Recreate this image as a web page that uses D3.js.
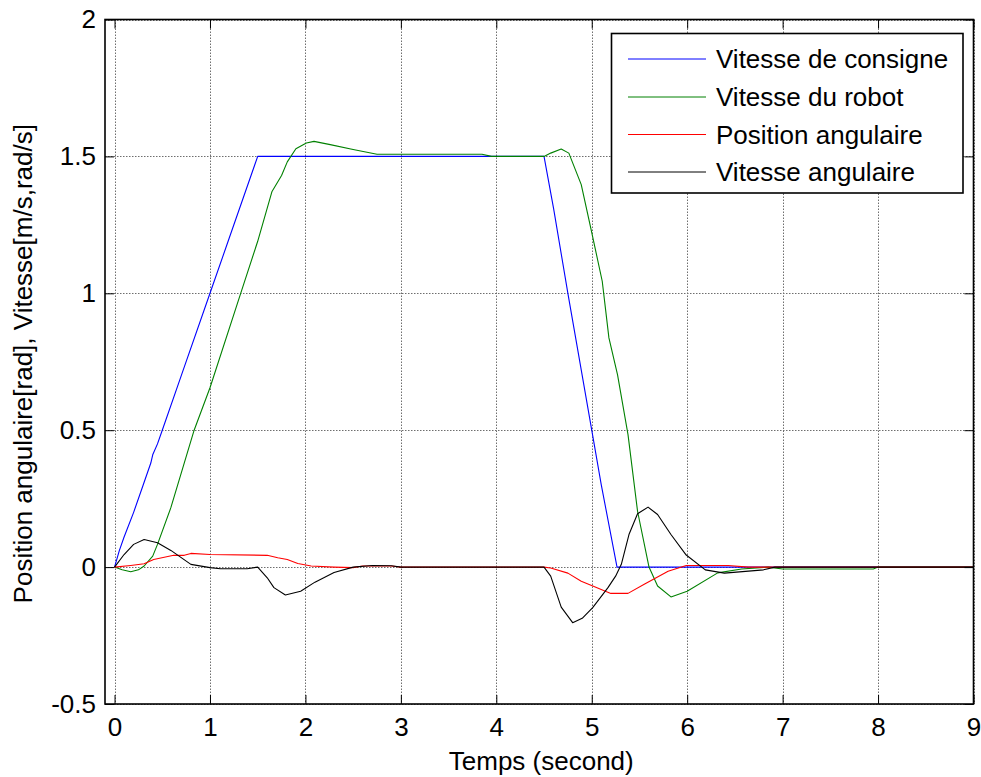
<!DOCTYPE html>
<html>
<head>
<meta charset="utf-8">
<script src="https://cdn.jsdelivr.net/npm/d3@7/dist/d3.min.js"></script>
<style>
  html, body { margin: 0; padding: 0; background: #fff; }
  svg { display: block; }
  text { font-family: "Liberation Sans", Arial, sans-serif; fill: #000; }
</style>
</head>
<body>
<svg id="chart" width="981" height="777"></svg>
<script>
// ---- Data ----
const xTicks = [0, 1, 2, 3, 4, 5, 6, 7, 8, 9];
const yTicks = [-0.5, 0, 0.5, 1, 1.5, 2];
const yTickLabels = ["-0.5", "0", "0.5", "1", "1.5", "2"];

const seriesNames = ["Vitesse de consigne", "Vitesse du robot", "Position angulaire", "Vitesse angulaire"];
const seriesColors = ["#0000ff", "#008000", "#ff0000", "#000000"];

const consigneT = [0, 0.05, 0.1, 0.2, 0.3, 0.38, 0.4, 0.45, 0.5, 0.7, 1.0, 1.2, 1.5, 4.5, 4.6, 4.75, 5.0, 5.1, 5.265, 9];
const consigneV = [0, 0.06, 0.11, 0.2, 0.3, 0.38, 0.41, 0.45, 0.5, 0.7, 1.0, 1.2, 1.5, 1.5, 1.31, 1.0, 0.5, 0.3, 0, 0];

const robotT = [0, 0.08, 0.17, 0.25, 0.31, 0.4, 0.45, 0.59, 0.83, 1.0, 1.32, 1.5, 1.65, 1.75, 1.81, 1.9, 2.01, 2.09, 2.26, 2.5, 2.75, 3.85, 3.95, 4.5, 4.57, 4.68, 4.76, 4.89, 4.99, 5.11, 5.18, 5.27, 5.38, 5.48, 5.6, 5.69, 5.83, 6.0, 6.32, 6.57, 6.85, 7.0, 7.95, 8.0, 9];
const robotV = [0, -0.01, -0.017, -0.01, 0.004, 0.04, 0.083, 0.217, 0.496, 0.655, 0.998, 1.19, 1.372, 1.43, 1.48, 1.528, 1.549, 1.555, 1.543, 1.525, 1.508, 1.508, 1.5, 1.5, 1.512, 1.527, 1.512, 1.397, 1.238, 1.044, 0.837, 0.703, 0.484, 0.204, 0, -0.069, -0.109, -0.088, -0.021, -0.007, 0, -0.007, -0.007, 0, 0];

const positionT = [0, 0.17, 0.31, 0.41, 0.62, 0.73, 0.8, 1.0, 1.6, 1.71, 1.81, 1.92, 2.06, 2.3, 2.5, 2.6, 2.9, 3.0, 4.5, 4.57, 4.75, 4.89, 5.03, 5.2, 5.38, 5.55, 5.8, 5.99, 6.43, 6.64, 9];
const positionV = [0, 0.006, 0.012, 0.028, 0.043, 0.043, 0.05, 0.046, 0.043, 0.034, 0.028, 0.013, 0.004, 0.0, -0.002, 0.004, 0.004, 0, 0, -0.003, -0.022, -0.052, -0.072, -0.096, -0.096, -0.063, -0.015, 0.006, 0.006, 0, 0];

const angulaireT = [0, 0.1, 0.2, 0.31, 0.45, 0.59, 0.8, 1.0, 1.11, 1.39, 1.5, 1.6, 1.67, 1.79, 1.95, 2.1, 2.3, 2.5, 2.7, 2.9, 3.0, 4.5, 4.57, 4.68, 4.8, 4.9, 5.01, 5.17, 5.25, 5.31, 5.39, 5.48, 5.59, 5.69, 5.83, 5.99, 6.19, 6.39, 6.8, 6.92, 9];
const angulaireV = [0, 0.046, 0.083, 0.101, 0.089, 0.061, 0.01, -0.002, -0.006, -0.006, 0, -0.039, -0.075, -0.102, -0.088, -0.055, -0.02, 0.0, 0.006, 0.005, 0, 0, -0.033, -0.146, -0.203, -0.187, -0.148, -0.075, -0.033, 0.01, 0.119, 0.195, 0.219, 0.192, 0.119, 0.044, -0.01, -0.022, -0.01, 0, 0];

const xLabel = "Temps (second)";
const yLabel = "Position angulaire[rad], Vitesse[m/s,rad/s]";

// ---- Drawing ----
(function () {
const svg = d3.select("#chart");
const pLeft = 105, pRight = 973.5, pTop = 19.5, pBottom = 704;
const FS = 26;

const x = d3.scaleLinear().domain([-0.1, 9]).range([pLeft, pRight]);
const y = d3.scaleLinear().domain([-0.5, 2]).range([pBottom, pTop]);

svg.append("rect").attr("width", 981).attr("height", 777).attr("fill", "#fff");

// grid
const grid = svg.append("g").attr("stroke", "#6e6e6e").attr("stroke-width", 1).attr("stroke-dasharray", "1.5,1.5");
grid.selectAll("line.gx").data(xTicks).enter().append("line")
  .attr("x1", d => Math.round(x(d)) + 0.5).attr("x2", d => Math.round(x(d)) + 0.5)
  .attr("y1", pTop).attr("y2", pBottom);
grid.selectAll("line.gy").data(yTicks).enter().append("line")
  .attr("y1", d => Math.round(y(d)) + 0.5).attr("y2", d => Math.round(y(d)) + 0.5)
  .attr("x1", pLeft).attr("x2", pRight);

// series
const series = [
  [consigneT, consigneV],
  [robotT, robotV],
  [positionT, positionV],
  [angulaireT, angulaireV]
];
const line = d3.line().x(d => x(d[0])).y(d => y(d[1]));
series.forEach((s, i) => {
  const pts = s[0].map((t, k) => [t, s[1][k]]);
  svg.append("path").datum(pts).attr("d", line)
    .attr("fill", "none").attr("stroke", seriesColors[i]).attr("stroke-width", 1.1)
    .attr("stroke-linejoin", "round");
});

// axes using d3 axis generators (ticks inside)
const tickLen = 9;
const axB = svg.append("g").attr("transform", `translate(0,${pBottom})`)
  .call(d3.axisBottom(x).tickValues(xTicks).tickSizeInner(-tickLen).tickSizeOuter(0).tickPadding(14).tickFormat(d3.format("d")));
const axT = svg.append("g").attr("transform", `translate(0,${pTop})`)
  .call(d3.axisTop(x).tickValues(xTicks).tickSizeInner(-tickLen).tickSizeOuter(0).tickFormat(""));
const axL = svg.append("g").attr("transform", `translate(${pLeft},0)`)
  .call(d3.axisLeft(y).tickValues(yTicks).tickSizeInner(-tickLen).tickSizeOuter(0).tickPadding(9).tickFormat((d, i) => yTickLabels[i]));
const axR = svg.append("g").attr("transform", `translate(${pRight},0)`)
  .call(d3.axisRight(y).tickValues(yTicks).tickSizeInner(-tickLen).tickSizeOuter(0).tickFormat(""));
[axB, axT, axL, axR].forEach(a => {
  a.select(".domain").remove();
  a.selectAll(".tick line").attr("stroke", "#000").attr("stroke-width", 1);
  a.selectAll("text").attr("font-size", FS).attr("font-family", "Liberation Sans, Arial, sans-serif").attr("fill", "#000");
});

// frame
svg.append("rect").attr("x", pLeft).attr("y", pTop).attr("width", pRight - pLeft).attr("height", pBottom - pTop)
  .attr("fill", "none").attr("stroke", "#000").attr("stroke-width", 1.6);

// axis labels
svg.append("text").attr("x", (pLeft + pRight) / 2 + 2).attr("y", 770).attr("text-anchor", "middle")
  .attr("font-size", FS).text(xLabel);
svg.append("text").attr("transform", `translate(32,${(pTop + pBottom) / 2 + 2}) rotate(-90)`)
  .attr("text-anchor", "middle").attr("font-size", FS).text(yLabel);

// legend
const lg = svg.append("g");
lg.append("rect").attr("x", 611.5).attr("y", 33.5).attr("width", 351.5).attr("height", 159.5)
  .attr("fill", "#fff").attr("stroke", "#000").attr("stroke-width", 1.6);
const rowY = [59, 97, 134.5, 172];
seriesNames.forEach((n, i) => {
  lg.append("line").attr("x1", 628).attr("x2", 706).attr("y1", rowY[i]).attr("y2", rowY[i])
    .attr("stroke", seriesColors[i]).attr("stroke-width", 1);
  lg.append("text").attr("x", 716).attr("y", rowY[i] + 9).attr("font-size", FS).text(n);
});
})();
</script>
</body>
</html>
